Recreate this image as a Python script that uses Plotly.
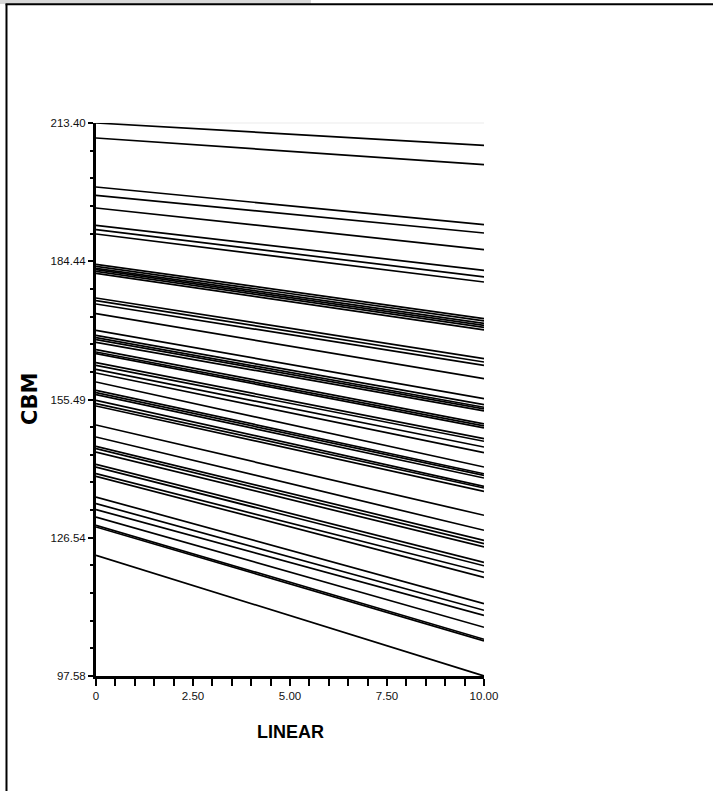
import numpy as np
import plotly.graph_objects as go

# Values at LINEAR = 0 and LINEAR = 10 for each line
x_points = [0, 10]
start_values = [
    213.40, 210.26, 200.00, 198.26, 195.60, 191.97, 191.07, 190.15,
    183.81, 183.39, 182.97, 182.70, 182.34, 181.92,
    176.75, 176.20, 175.49, 173.48,
    169.98, 168.94, 168.45, 168.04, 167.47,
    165.94, 165.44, 165.10, 163.22, 162.65, 161.81, 161.04,
    159.16, 157.42, 156.93, 156.52, 155.32, 154.63, 154.13,
    150.15, 147.64, 145.69, 145.21, 144.49,
    141.92, 141.35, 139.97, 139.40,
    135.07, 133.69, 132.43, 130.88, 129.14, 128.79, 122.86,
]
end_values = [
    208.73, 204.69, 192.12, 190.36, 186.89, 182.55, 181.15, 180.10,
    172.43, 171.97, 171.45, 171.03, 170.61, 170.09,
    164.06, 163.34, 162.65, 159.87,
    155.68, 154.42, 153.86, 153.54, 153.12,
    150.40, 149.98, 149.56, 147.30, 146.74, 145.54, 144.37,
    141.35, 139.93, 139.61, 139.05, 137.31, 136.95, 136.26,
    131.24, 128.10, 126.00, 125.31, 124.60,
    121.39, 120.66, 119.30, 118.25,
    112.74, 111.34, 110.29, 107.78, 105.27, 104.95, 97.58,
]

x_tick_values = [0, 2.5, 5, 7.5, 10]
x_tick_labels = ["0", "2.50", "5.00", "7.50", "10.00"]
y_tick_values = [97.58, 126.535, 155.49, 184.445, 213.40]
y_tick_labels = ["97.58", "126.54", "155.49", "184.44", "213.40"]

x_title = "LINEAR"
y_title = "CBM"

fig = go.Figure()
for s, e in zip(start_values, end_values):
    fig.add_trace(go.Scatter(
        x=x_points, y=[s, e], mode="lines",
        line=dict(color="black", width=1.7),
        showlegend=False, hoverinfo="skip",
    ))

# minor tick positions between labelled ticks
y_minor = []
for a, b in zip(y_tick_values[:-1], y_tick_values[1:]):
    y_minor += list(np.linspace(a, b, 6)[1:-1])

tick_font = dict(family="Liberation Sans Narrow, Arial Narrow, Liberation Sans, sans-serif",
                 size=11.5, color="#111111")

fig.update_layout(
    width=713, height=791, autosize=False,
    margin=dict(l=96, r=229, t=123, b=115, pad=0),
    paper_bgcolor="white", plot_bgcolor="white",
    showlegend=False,
    xaxis=dict(
        range=[0, 10], showgrid=False, zeroline=False,
        showline=True, linecolor="black", linewidth=3,
        ticks="outside", ticklen=7, tickwidth=2, tickcolor="black",
        tickmode="array", tickvals=x_tick_values, ticktext=x_tick_labels,
        tickfont=tick_font,
        minor=dict(ticks="outside", ticklen=7, tickwidth=2, tickcolor="black",
                   dtick=0.5, tick0=0, showgrid=False),
    ),
    yaxis=dict(
        range=[97.58, 213.40], showgrid=False, zeroline=False,
        showline=True, linecolor="black", linewidth=3,
        ticks="outside", ticklen=5, tickwidth=2, tickcolor="black",
        tickmode="array", tickvals=y_tick_values, ticktext=y_tick_labels,
        tickfont=tick_font,
        minor=dict(ticks="outside", ticklen=3, tickwidth=2, tickcolor="black",
                   tickmode="array", tickvals=y_minor, showgrid=False),
    ),
    annotations=[
        dict(text=x_title, xref="paper", yref="paper", x=0.5, y=-0.101,
             showarrow=False, xanchor="center", yanchor="middle",
             font=dict(family="Liberation Sans Narrow, Arial Narrow, Liberation Sans, sans-serif",
                       size=18, color="black", weight="bold")),
        dict(text=y_title, xref="paper", yref="paper", x=-0.170, y=0.501,
             showarrow=False, xanchor="center", yanchor="middle", textangle=-90,
             font=dict(family="DejaVu Sans, sans-serif", size=21, color="black",
                       weight="bold")),
    ],
    shapes=[
        # grey strip at the very top
        dict(type="rect", xref="paper", yref="paper", x0=-0.25, x1=0.554,
             y0=1.2150, y1=1.24, line=dict(width=0), fillcolor="#d8d8d8"),
        # faint top border of plotting area
        dict(type="line", xref="paper", yref="paper", x0=0, x1=1, y0=1, y1=1,
             line=dict(color="#ebebeb", width=1), layer="below"),
        # outer frame (left and top)
        dict(type="line", xref="paper", yref="paper", x0=-0.2307, x1=-0.2307,
             y0=1.2146, y1=-0.22, line=dict(color="black", width=2)),
        dict(type="line", xref="paper", yref="paper", x0=-0.2333, x1=1.60,
             y0=1.2146, y1=1.2146, line=dict(color="black", width=2)),
    ],
)

fig.write_html(
    "out.html",
    config={"displayModeBar": False},
    post_script="document.body.style.margin='0px';document.body.style.overflow='hidden';",
)
